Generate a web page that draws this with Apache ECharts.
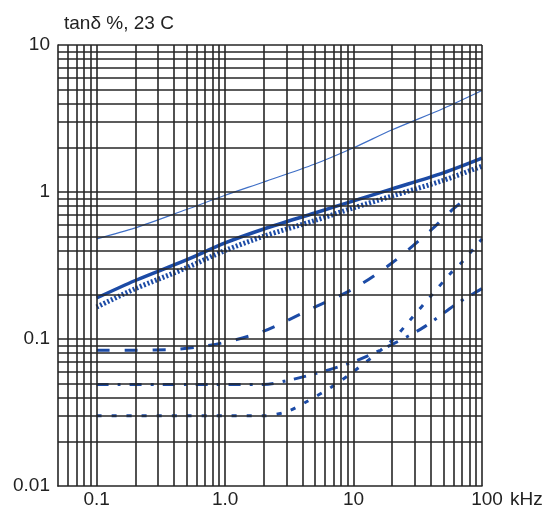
<!DOCTYPE html>
<html>
<head>
<meta charset="utf-8">
<script src="https://cdn.jsdelivr.net/npm/echarts@6/dist/echarts.min.js"></script>
<style>
html,body{margin:0;padding:0;background:#fff;}
#c{width:551px;height:514px;}
</style>
</head>
<body>
<div id="c"></div>
<script>
// Frequency (kHz) / tanδ (%) readings from the reference
var thinSolid = [[0.1,0.48],[0.2,0.57],[0.5,0.76],[1,0.95],[2,1.17],[5,1.55],[10,2.0],[20,2.65],[50,3.7],[100,4.9]];
var thickSolid = [[0.1,0.19],[0.2,0.25],[0.5,0.345],[1,0.45],[2,0.56],[5,0.72],[10,0.87],[20,1.05],[50,1.35],[100,1.7]];
var thickDotted = [[0.1,0.165],[0.2,0.22],[0.5,0.305],[1,0.40],[2,0.50],[5,0.64],[10,0.78],[20,0.94],[50,1.2],[100,1.5]];
var dashed = [[0.1,0.084],[0.2,0.084],[0.4,0.085],[0.6,0.088],[1,0.095],[2,0.113],[5,0.165],[10,0.22],[20,0.33],[40,0.55],[60,0.77],[75,0.9]];
var dashDot = [[0.1,0.049],[0.5,0.049],[1,0.049],[2,0.049],[3,0.052],[5,0.058],[10,0.07],[20,0.092],[35,0.12],[65,0.176],[100,0.22]];
var dotted = [[0.1,0.03],[0.5,0.03],[1,0.03],[2,0.03],[3,0.032],[4.2,0.037],[6.7,0.047],[10,0.06],[20,0.098],[28,0.137],[40,0.196],[57,0.28],[70,0.334],[100,0.48]];

var xTickLabels = {'0.1':'0.1','1':'1.0','10':'10','100':'{r|100}'};
var yTickLabels = {'0.01':'0.01','0.1':'0.1','1':'1','10':'10'};
var xDecades = [0.01,0.1,1,10];
var yDecades = [0.01,0.1,1];
var steps = [1,2,3,4,5,6,7,8,9];

var xMin = 0.05, xMax = 100, yMin = 0.01, yMax = 10;
var gridColor = '#262626';

var gridLines = [];
xDecades.forEach(function(d){ steps.forEach(function(s){
  var v = +(d*s).toPrecision(3);
  if (v > xMin && v < xMax) gridLines.push({xAxis: v});
});});
gridLines.push({xAxis: xMax});
yDecades.forEach(function(d){ steps.forEach(function(s){
  var v = +(d*s).toPrecision(3);
  if (v > yMin && v < yMax) gridLines.push({yAxis: v});
});});
gridLines.push({yAxis: yMax});

var blue = '#1c4ba6';
var font = 'Liberation Sans, Arial, sans-serif';
var txt = '#222';

var chart = echarts.init(document.getElementById('c'));
chart.setOption({
  animation: false,
  title: {
    text: 'tanδ %, 23 C', left: 59, top: 9,
    textStyle: {fontFamily: font, fontSize: 19, fontWeight: 'normal', color: txt}
  },
  grid: {left: 58, right: 69, top: 45, bottom: 28},
  xAxis: {
    type: 'log', logBase: 10, min: xMin, max: xMax,
    name: 'kHz', nameLocation: 'end', nameGap: 28,
    nameTextStyle: {fontFamily: font, fontSize: 19, color: txt, verticalAlign: 'top', padding: [4,0,0,0]},
    axisLine: {show: true, lineStyle: {color: gridColor, width: 1.6}},
    axisTick: {show: false},
    splitLine: {show: false},
    axisLabel: {
      fontFamily: font, fontSize: 19, color: txt, margin: 4,
      formatter: function(v){ var k = String(+v.toPrecision(3)); return xTickLabels[k] || ''; },
      rich: {r: {fontFamily: font, fontSize: 19, color: txt, padding: [0,0,0,10]}}
    }
  },
  yAxis: {
    type: 'log', logBase: 10, min: yMin, max: yMax,
    axisLine: {show: true, lineStyle: {color: gridColor, width: 1.6}},
    axisTick: {show: false},
    splitLine: {show: false},
    axisLabel: {
      fontFamily: font, fontSize: 19, color: txt, margin: 8,
      formatter: function(v){ var k = String(+v.toPrecision(3)); return yTickLabels[k] || ''; }
    }
  },
  series: [
    {
      type: 'line', data: [], silent: true,
      markLine: {
        silent: true, symbol: ['none','none'], label: {show: false},
        lineStyle: {color: gridColor, width: 1.6, type: 'solid'},
        data: gridLines
      }
    },
    {type: 'line', data: thinSolid, showSymbol: false, smooth: 0.3, lineStyle: {color: '#3f6fc6', width: 1.2}},
    {type: 'line', data: thickDotted, showSymbol: false, smooth: 0.3, lineStyle: {color: blue, width: 5, type: [2,2]}},
    {type: 'line', data: thickSolid, showSymbol: false, smooth: 0.3, lineStyle: {color: blue, width: 3.5}},
    {type: 'line', data: dashed, showSymbol: false, smooth: 0.3, lineStyle: {color: blue, width: 3, type: [13,15]}},
    {type: 'line', data: dashDot, showSymbol: false, smooth: 0.3, lineStyle: {color: blue, width: 3, type: [12,9,3,9]}},
    {type: 'line', data: dotted, showSymbol: false, smooth: 0.3, lineStyle: {color: blue, width: 3, type: [5,10]}}
  ]
});
</script>
</body>
</html>
